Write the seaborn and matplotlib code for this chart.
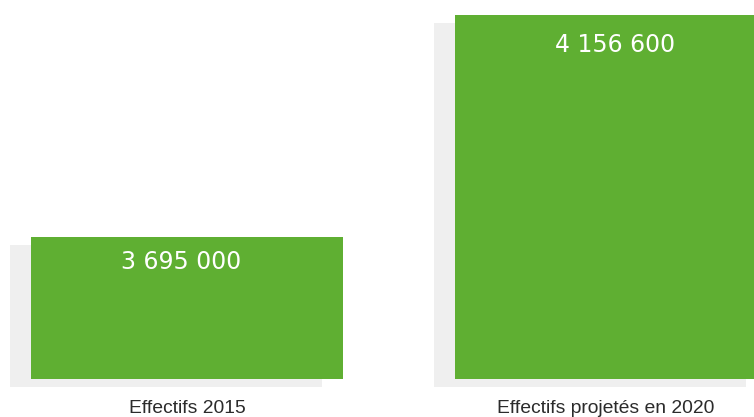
import matplotlib
matplotlib.use("Agg")
import matplotlib.pyplot as plt
import matplotlib.transforms as mtransforms
import seaborn as sns
import pandas as pd

categories = ["Effectifs 2015", "Effectifs projetés en 2020"]
values = [3695000, 4156600]
baseline = 3400000

GREEN = "#5faf32"
SHADOW = "#efefef"
TEXT = "#2b2b2b"

sns.set_theme(style="white")
plt.rcParams["font.family"] = ["Liberation Sans", "DejaVu Sans"]

df = pd.DataFrame({"cat": categories, "val": values})
heights = [v - baseline for v in values]
df["h"] = heights

fig = plt.figure(figsize=(7.54, 4.17), dpi=100)
ax = fig.add_axes([0, 0, 1, 1])

bar_w = 0.736
# shadow bars
sns.barplot(data=df, x="cat", y="h", color=SHADOW, width=bar_w, ax=ax,
            bottom=baseline, saturation=1, linewidth=0, zorder=1)
n_shadow = len(ax.patches)
off = mtransforms.offset_copy(ax.transData, fig=fig, x=-21, y=-8, units="dots")
for p in ax.patches[:n_shadow]:
    p.set_transform(off)

# main bars
sns.barplot(data=df, x="cat", y="h", color=GREEN, width=bar_w, ax=ax,
            bottom=baseline, saturation=1, linewidth=0, zorder=2)

# scales: y-range chosen so the baseline sits at the same place as the reference
px_per_val = (378.7 - 15) / (values[1] - baseline)
ax.set_ylim(baseline - (417 - 379) / px_per_val, values[1] + 15 / px_per_val)
ax.set_xlim(-187 / 424, (754 - 187) / 424)

label_dx = [-6, 4]
label_dy = [-25, -30]
for i, v in enumerate(values):
    label = f"{v:,}".replace(",", " ")
    ax.annotate(label, xy=(i, v), xytext=(label_dx[i], label_dy[i]),
                textcoords="offset pixels",
                ha="center", va="center", color="white", fontsize=17,
                family=["DejaVu Sans"], zorder=3)
    ax.annotate(categories[i], xy=(i, baseline), xytext=(0 if i == 0 else -5, -34),
                textcoords="offset pixels", ha="center", va="baseline",
                color=TEXT, fontsize=13.9, zorder=3)

ax.set_axis_off()
fig.savefig("out.png", dpi=100)
